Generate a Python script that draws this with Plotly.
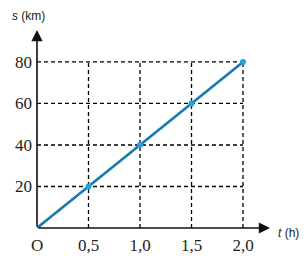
import plotly.graph_objects as go

t_vals = [0, 0.5, 1.0, 1.5, 2.0]
s_vals = [0, 20, 40, 60, 80]
x_ticks = [0.5, 1.0, 1.5, 2.0]
x_tick_text = ["0,5", "1,0", "1,5", "2,0"]
y_ticks = [20, 40, 60, 80]
y_tick_text = ["20", "40", "60", "80"]

xmax = 2.262
ymax = 95.4

fig = go.Figure()

gx, gy = [], []
for xv in x_ticks:
    gx += [xv, xv, None]
    gy += [0, max(s_vals), None]
for yv in y_ticks:
    gx += [0, max(t_vals), None]
    gy += [yv, yv, None]
fig.add_trace(go.Scatter(x=gx, y=gy, mode="lines",
                         line=dict(color="black", width=1.3, dash="4px,3px"),
                         hoverinfo="skip", showlegend=False))

fig.add_trace(go.Scatter(x=t_vals, y=s_vals, mode="lines",
                         line=dict(color="#1a7aad", width=2.6),
                         showlegend=False))
fig.add_trace(go.Scatter(x=t_vals[1:], y=s_vals[1:], mode="markers",
                         marker=dict(color="#22a3dc", size=6),
                         showlegend=False))

fig.update_xaxes(range=[0, xmax], showgrid=False, zeroline=False, showline=False,
                 tickvals=x_ticks, ticktext=x_tick_text, ticks="", automargin=False,
                 tickfont=dict(family="Liberation Serif", size=17, color="#222"),
                 ticklabelstandoff=5)
fig.update_yaxes(range=[0, ymax], showgrid=False, zeroline=False, showline=False,
                 tickvals=y_ticks, ticktext=y_tick_text, ticks="", automargin=False,
                 tickfont=dict(family="Liberation Serif", size=17, color="#222"),
                 ticklabelstandoff=4)

fig.add_annotation(x=1, y=0, xref="paper", yref="paper", ax=-233, ay=0,
                   axref="pixel", ayref="pixel", text="", showarrow=True,
                   arrowhead=2, arrowsize=1.4, arrowwidth=1.6, arrowcolor="#111")
fig.add_annotation(x=0, y=1, xref="paper", yref="paper", ax=0, ay=198,
                   text="", showarrow=True,
                   arrowhead=2, arrowsize=1.4, arrowwidth=1.6, arrowcolor="#111")

fig.add_annotation(x=0, y=0, xref="paper", yref="paper", text="O",
                   showarrow=False, xanchor="center", yanchor="middle",
                   yshift=-17, xshift=0,
                   font=dict(family="Liberation Serif", size=17, color="#222"))
fig.add_annotation(x=1, y=0, xref="paper", yref="paper",
                   text="<i>t</i> (h)", showarrow=False, xanchor="left",
                   yanchor="middle", xshift=6, yshift=-5,
                   font=dict(family="Liberation Sans", size=12, color="#222"))
fig.add_annotation(x=0, y=1, xref="paper", yref="paper",
                   text="<i>s</i> (km)", showarrow=False, xanchor="center",
                   yanchor="middle", xshift=-9, yshift=14,
                   font=dict(family="Liberation Sans", size=12, color="#222"))

fig.update_layout(width=306, height=263,
                  margin=dict(l=37, r=36, t=30, b=35),
                  plot_bgcolor="white", paper_bgcolor="white")

fig.write_html("out.html")
